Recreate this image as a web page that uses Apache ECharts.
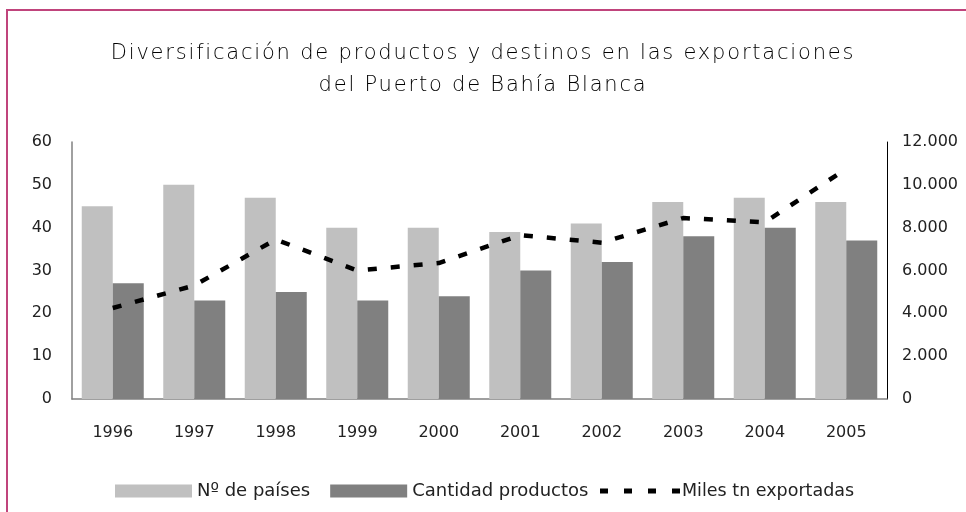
<!DOCTYPE html>
<html>
<head>
<meta charset="utf-8">
<script src="https://cdn.jsdelivr.net/npm/echarts@6/dist/echarts.min.js"></script>
<style>
  html, body { margin: 0; padding: 0; background: #fff; }
  #chart { width: 966px; height: 512px; }
</style>
</head>
<body>
<div id="chart"></div>
<script>
// datos del gráfico
var years = ['1996', '1997', '1998', '1999', '2000', '2001', '2002', '2003', '2004', '2005']
var paises = [45, 50, 47, 40, 40, 39, 41, 46, 47, 46]
var productos = [27, 23, 25, 23, 24, 30, 32, 38, 40, 37]
var milesTn = [4250, 5300, 7450, 6000, 6350, 7650, 7300, 8450, 8250, 10750]

var font = 'DejaVu Sans, Liberation Sans, sans-serif'
// icono de guiones para la leyenda de la línea
var dashIcon = 'path://M0,0h8v5h-8z M24,0h8v5h-8z M48,0h8v5h-8z M72,0h8v5h-8z'

// el título original va espaciado: se añade letterSpacing sólo al texto fino (peso 200)
var origFillText = CanvasRenderingContext2D.prototype.fillText
CanvasRenderingContext2D.prototype.fillText = function (t, x, y, w) {
  if (this.font.indexOf('200 ') === 0 && 'letterSpacing' in this) {
    var prev = this.letterSpacing
    this.letterSpacing = '1.8px'
    var r = w === undefined ? origFillText.call(this, t, x, y) : origFillText.call(this, t, x, y, w)
    this.letterSpacing = prev
    return r
  }
  return w === undefined ? origFillText.call(this, t, x, y) : origFillText.call(this, t, x, y, w)
}

var chart = echarts.init(document.getElementById('chart'))
chart.setOption({
  animation: false,
  backgroundColor: '#fff',
  title: {
    text: 'Diversificación de productos y destinos en las exportaciones\ndel Puerto de Bahía Blanca',
    left: 'center',
    top: 33,
    textStyle: {
      fontFamily: font,
      fontSize: 21,
      fontWeight: 200,
      color: '#000',
      lineHeight: 32
    }
  },
  graphic: [{
    type: 'rect',
    shape: { x: 7, y: 10, width: 970, height: 520 },
    style: { fill: 'none', stroke: '#c0447c', lineWidth: 2 },
    silent: true
  }],
  legend: [{
    data: [
      { name: 'Nº de países', icon: 'rect' },
      { name: 'Cantidad productos', icon: 'rect' }
    ],
    left: 110,
    top: 477,
    itemWidth: 77,
    itemHeight: 13,
    itemGap: 20,
    textStyle: { fontFamily: font, fontSize: 18, color: '#222' }
  }, {
    data: [{ name: 'Miles tn exportadas', icon: dashIcon, itemStyle: { color: '#000' } }],
    left: 595,
    top: 477,
    itemWidth: 80,
    itemHeight: 5,
    textStyle: { fontFamily: font, fontSize: 17.5, color: '#222', padding: [0, 0, 0, -3] }
  }],
  grid: { left: 72, right: 79, top: 142, bottom: 113 },
  xAxis: {
    type: 'category',
    data: years,
    axisLine: { lineStyle: { color: '#808080', width: 1.5 } },
    axisTick: { show: false },
    axisLabel: { fontFamily: font, fontSize: 16, color: '#222', margin: 26 }
  },
  yAxis: [{
    type: 'value',
    min: 0,
    max: 60,
    interval: 10,
    splitLine: { show: false },
    axisLine: { show: true, lineStyle: { color: '#808080', width: 1.5 } },
    axisTick: { show: false },
    axisLabel: { fontFamily: font, fontSize: 16, color: '#222', margin: 20 }
  }, {
    type: 'value',
    min: 0,
    max: 12000,
    interval: 2000,
    splitLine: { show: false },
    axisLine: { show: true, lineStyle: { color: '#000', width: 1 } },
    axisTick: { show: false },
    axisLabel: {
      fontFamily: font,
      fontSize: 16,
      color: '#222',
      margin: 15,
      formatter: function (v) {
        return v === 0 ? '0' : v.toLocaleString('de-DE')
      }
    }
  }],
  series: [{
    name: 'Nº de países',
    type: 'bar',
    data: paises,
    barWidth: 31,
    barGap: '0%',
    itemStyle: { color: '#c0c0c0' }
  }, {
    name: 'Cantidad productos',
    type: 'bar',
    data: productos,
    barWidth: 31,
    itemStyle: { color: '#808080' }
  }, {
    name: 'Miles tn exportadas',
    type: 'line',
    yAxisIndex: 1,
    data: milesTn,
    symbol: 'none',
    lineStyle: { color: '#000', width: 4.5, type: [9, 14] },
    itemStyle: { color: '#000' }
  }]
})
</script>
</body>
</html>
